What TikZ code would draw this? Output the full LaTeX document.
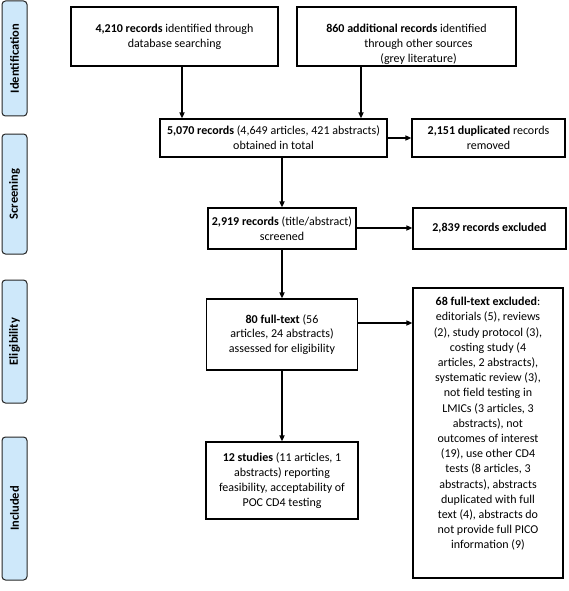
\documentclass[tikz,border=0pt]{standalone}
\usepackage{fontspec}
\setmainfont{Carlito}
\usetikzlibrary{arrows.meta,calc}
\definecolor{phase}{RGB}{206,232,250}
\begin{document}
\begin{tikzpicture}[x=1pt,y=-1pt,
  box/.style={draw=black, line width=1.2pt, inner sep=0pt, align=center, font=\fontsize{12}{14.8}\selectfont},
  boxtext/.style={inner sep=0pt, align=center, font=\fontsize{12}{14.8}\selectfont},
  phasebox/.style={draw=black!85, fill=phase, rounded corners=3.5pt, line width=1pt, minimum width=25pt, inner sep=0pt},
  phaselabel/.style={rotate=90, font=\bfseries\fontsize{12.5}{14}\selectfont},
  conn/.style={line width=1.5pt, -{Triangle[length=6pt,width=5pt]}},
]
\useasboundingbox (0,0) rectangle (568,591);

% phase labels
\node[phasebox, minimum height=115pt] (pid) at (14.5,58.5) {};
\node[phaselabel] (lid) at (pid.center) {Identification};
\node[phasebox, minimum height=120pt] (psc) at (14.5,194) {};
\node[phaselabel] (lsc) at (psc.center) {Screening};
\node[phasebox, minimum height=123pt] (pel) at (14.5,341.5) {};
\node[phaselabel] (lel) at (pel.center) {Eligibility};
\node[phasebox, minimum height=143pt] (pin) at (14.5,508.5) {};
\node[phaselabel] (lin) at (pin.center) {Included};

% boxes
\node[box, minimum width=207pt, minimum height=59pt] (b1) at (174.5,36.5)
  {\textbf{4,210 records} identified through\\ database searching};
\node[box, minimum width=219pt, minimum height=59pt] (b2) at (406.5,36.5) {};
\node[boxtext] (t2) at (406.5,44.5)
  {\textbf{860 additional records} identified\\ \hspace*{24pt}through other sources\\ \hspace*{24pt}(grey literature)};
\node[box, minimum width=227pt, minimum height=38pt] (b3) at (273.5,138)
  {\textbf{5,070 records} (4,649 articles, 421 abstracts)\\ obtained in total};
\node[box, minimum width=153pt, minimum height=38pt] (b4) at (488.5,138)
  {\textbf{2,151 duplicated} records\\ removed};
\node[box, minimum width=148pt, minimum height=41pt] (b5) at (282,228.5)
  {\textbf{2,919 records} (title/abstract)\\ screened};
\node[box, minimum width=153pt, minimum height=41pt] (b6) at (489.5,228.5)
  {\textbf{2,839 records excluded}};
\node[box, minimum width=151pt, minimum height=71pt] (b7) at (282,334.5)
  {\textbf{80 full-text} (56\\ articles, 24 abstracts)\\ assessed for eligibility};
\node[box, minimum width=150pt, minimum height=290pt] (b8) at (488,433) {};
\node[boxtext, anchor=north, font=\fontsize{12}{15.2}\selectfont] (t8) at (488,297)
  {\textbf{68 full-text excluded}:\\ editorials (5), reviews\\ (2), study protocol (3),\\ costing study (4\\ articles, 2 abstracts),\\ systematic review (3),\\ not field testing in\\ LMICs (3 articles, 3\\ abstracts), not\\ outcomes of interest\\ (19), use other CD4\\ tests (8 articles, 3\\ abstracts), abstracts\\ duplicated with full\\ text (4), abstracts do\\ not provide full PICO\\ information (9)};
\node[box, minimum width=152pt, minimum height=77pt] (b9) at (282,480.5)
  {\textbf{12 studies} (11 articles, 1\\ abstracts) reporting\\ feasibility, acceptability of\\ POC CD4 testing};

% connectors
\draw[conn] ([xshift=7.5pt]b1.south) -- ([xshift=7.5pt]b1.south |- b3.north);
\draw[conn] ([xshift=-45.5pt]b2.south) -- ([xshift=-45.5pt]b2.south |- b3.north);
\draw[conn] (b3.east) -- (b3.east -| b4.west);
\draw[conn] (b5.north |- b3.south) -- (b5.north);
\draw[conn] ([yshift=0.5pt]b5.east) -- ([yshift=0.5pt]b5.east -| b6.west);
\draw[conn] (b7.north |- b5.south) -- (b7.north);
\draw[conn] ([yshift=11.5pt]b7.east) -- ([yshift=11.5pt]b7.east -| b8.west);
\draw[conn] (b9.north |- b7.south) -- (b9.north);
\end{tikzpicture}
\end{document}
